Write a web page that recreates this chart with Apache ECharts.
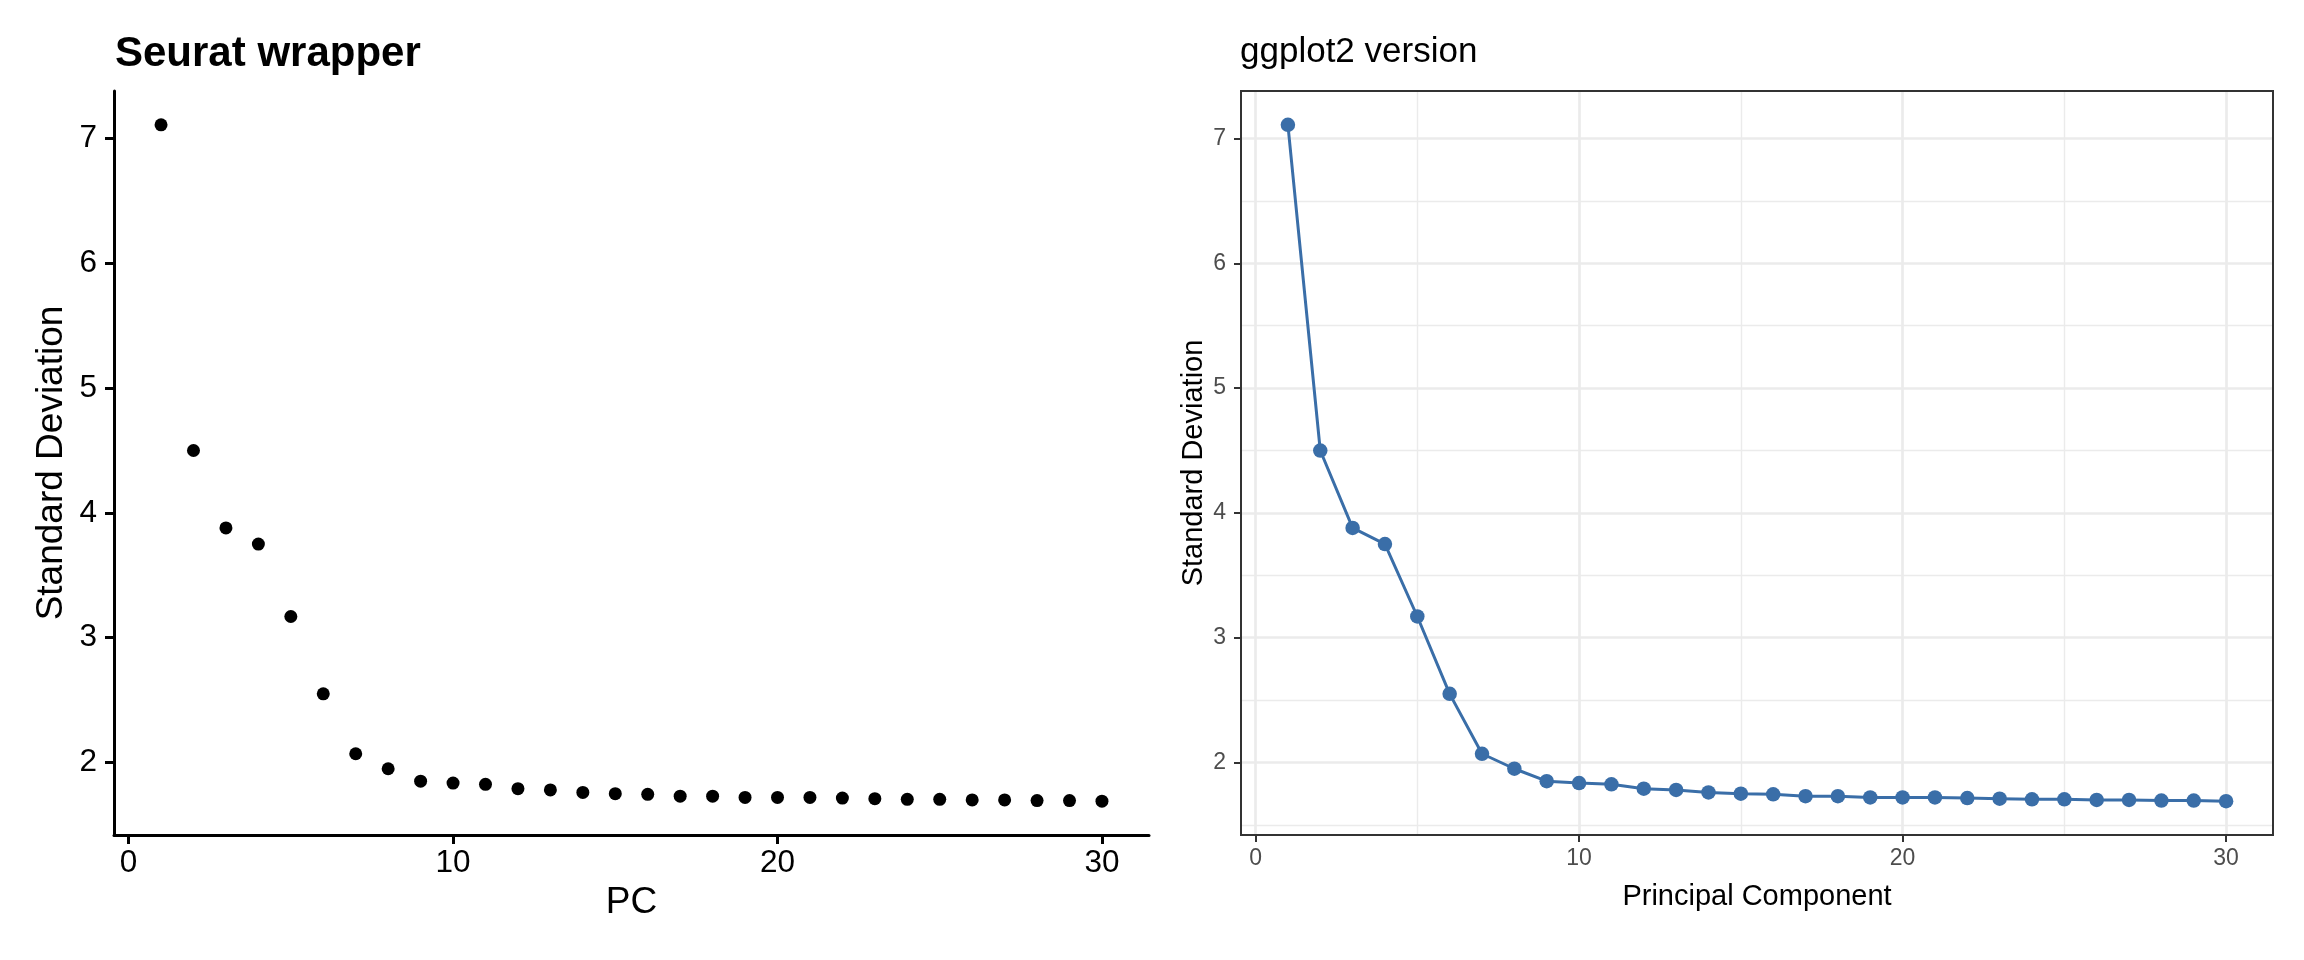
<!DOCTYPE html>
<html>
<head>
<meta charset="utf-8">
<script src="https://cdn.jsdelivr.net/npm/echarts@6/dist/echarts.min.js"></script>
<style>
html,body{margin:0;padding:0;background:#fff;}
#chart{width:2304px;height:960px;}
</style>
</head>
<body>
<div id="chart"></div>
<script>
// ---- data ----
const pcs = [1,2,3,4,5,6,7,8,9,10,11,12,13,14,15,16,17,18,19,20,21,22,23,24,25,26,27,28,29,30];
const stdev = [7.11,4.50,3.88,3.75,3.17,2.55,2.07,1.95,1.85,1.835,1.825,1.79,1.78,1.76,1.75,1.745,1.73,1.73,1.72,1.72,1.72,1.715,1.71,1.705,1.705,1.70,1.70,1.695,1.695,1.69];
const xTicks = [0,10,20,30];
const xMinorTicks = [5,15,25];
const yTicks = [2,3,4,5,6,7];
const yMinorTicks = [1.5,2.5,3.5,4.5,5.5,6.5];
const leftTitle = 'Seurat wrapper';
const rightTitle = 'ggplot2 version';
const leftXName = 'PC';
const rightXName = 'Principal Component';
const yName = 'Standard Deviation';

// ggplot-style 5% expansion of the data range
const xLo = Math.min(...pcs), xHi = Math.max(...pcs);
const yLo = Math.min(...stdev), yHi = Math.max(...stdev);
const xPad = (xHi - xLo) * 0.05, yPad = (yHi - yLo) * 0.05;
const xMin = xLo - xPad, xMax = xHi + xPad;
const yMin = yLo - yPad, yMax = yHi + yPad;

const pts = pcs.map((p, i) => [p, stdev[i]]);
const FONT = 'Liberation Sans, Arial, Helvetica, sans-serif';

const chart = echarts.init(document.getElementById('chart'), null, {renderer: 'canvas'});

const gridLines = [];
xTicks.forEach(v => gridLines.push({xAxis: v, lineStyle: {width: 2.7}}));
yTicks.forEach(v => gridLines.push({yAxis: v, lineStyle: {width: 2.7}}));
xMinorTicks.forEach(v => gridLines.push({xAxis: v, lineStyle: {width: 1.4}}));
yMinorTicks.forEach(v => gridLines.push({yAxis: v, lineStyle: {width: 1.4}}));

const option = {
  animation: false,
  backgroundColor: '#ffffff',
  textStyle: {fontFamily: FONT},
  title: [
    {text: leftTitle, left: 115, top: 33, padding: 0,
     textStyle: {fontFamily: FONT, fontSize: 42, fontWeight: 'bold', color: '#000'}},
    {text: rightTitle, left: 1240, top: 35, padding: 0,
     textStyle: {fontFamily: FONT, fontSize: 35, fontWeight: 'normal', color: '#000'}}
  ],
  grid: [
    {left: 114, top: 91, width: 1035, height: 744, show: false, containLabel: false},
    {left: 1241, top: 91, width: 1032, height: 744, show: true, z: 10,
     backgroundColor: 'transparent', borderColor: '#333333', borderWidth: 2, containLabel: false}
  ],
  xAxis: [
    {type: 'value', gridIndex: 0, min: xMin, max: xMax,
     name: leftXName, nameLocation: 'middle', nameGap: 46,
     nameTextStyle: {fontFamily: FONT, fontSize: 37, color: '#000'},
     axisLine: {show: true, onZero: false, lineStyle: {color: '#000', width: 3}},
     axisTick: {show: true, inside: false, length: 9, lineStyle: {color: '#000', width: 3}, customValues: xTicks},
     axisLabel: {show: true, margin: 12, fontFamily: FONT, fontSize: 31.5, color: '#000', customValues: xTicks},
     splitLine: {show: false}},
    {type: 'value', gridIndex: 1, min: xMin, max: xMax,
     name: rightXName, nameLocation: 'middle', nameGap: 47,
     nameTextStyle: {fontFamily: FONT, fontSize: 29, color: '#000'},
     axisLine: {show: false, onZero: false},
     axisTick: {show: true, inside: false, length: 7, lineStyle: {color: '#333333', width: 2}, customValues: xTicks},
     axisLabel: {show: true, margin: 12, fontFamily: FONT, fontSize: 23, color: '#4D4D4D', customValues: xTicks},
     splitLine: {show: false}}
  ],
  yAxis: [
    {type: 'value', gridIndex: 0, min: yMin, max: yMax,
     name: yName, nameLocation: 'middle', nameGap: 44,
     nameTextStyle: {fontFamily: FONT, fontSize: 37, color: '#000'},
     axisLine: {show: true, onZero: false, lineStyle: {color: '#000', width: 3}},
     axisTick: {show: true, inside: false, length: 9, lineStyle: {color: '#000', width: 3}, customValues: yTicks},
     axisLabel: {show: true, margin: 17, fontFamily: FONT, fontSize: 31.5, color: '#000', customValues: yTicks},
     splitLine: {show: false}},
    {type: 'value', gridIndex: 1, min: yMin, max: yMax,
     name: yName, nameLocation: 'middle', nameGap: 33,
     nameTextStyle: {fontFamily: FONT, fontSize: 29, color: '#000'},
     axisLine: {show: false, onZero: false},
     axisTick: {show: true, inside: false, length: 7, lineStyle: {color: '#333333', width: 2}, customValues: yTicks},
     axisLabel: {show: true, margin: 15, fontFamily: FONT, fontSize: 23, color: '#4D4D4D', customValues: yTicks},
     splitLine: {show: false}}
  ],
  series: [
    {type: 'scatter', xAxisIndex: 0, yAxisIndex: 0, data: pts,
     symbol: 'circle', symbolSize: 13, itemStyle: {color: '#000', opacity: 1}, silent: true},
    {type: 'line', xAxisIndex: 1, yAxisIndex: 1, data: pts, z: 1,
     showSymbol: false, symbol: 'none', lineStyle: {opacity: 0}, silent: true,
     markLine: {silent: true, symbol: ['none', 'none'], label: {show: false},
       lineStyle: {type: 'solid', color: '#EBEBEB'}, animation: false, data: gridLines}},
    {type: 'line', xAxisIndex: 1, yAxisIndex: 1, data: pts, zlevel: 1, z: 3,
     symbol: 'circle', symbolSize: 14.5, showSymbol: true,
     lineStyle: {color: '#3A6EA8', width: 3},
     itemStyle: {color: '#3A6EA8', opacity: 1}, silent: true}
  ]
};
chart.setOption(option);
</script>
</body>
</html>
